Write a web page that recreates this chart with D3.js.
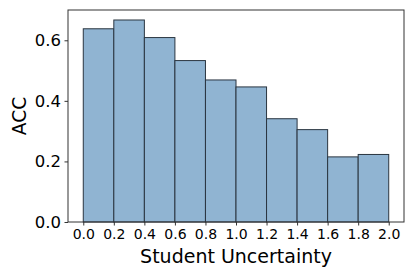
<!DOCTYPE html>
<html>
<head>
<meta charset="utf-8">
<script src="https://cdn.jsdelivr.net/npm/d3@7"></script>
<style>
  body { margin: 0; background: #fff; }
  svg { font-family: "DejaVu Sans", sans-serif; }
</style>
</head>
<body>
<script>
// bin left edges and accuracy per bin
var binStarts = [0.0, 0.2, 0.4, 0.6, 0.8, 1.0, 1.2, 1.4, 1.6, 1.8];
var accValues = [0.638, 0.667, 0.609, 0.533, 0.469, 0.446, 0.341, 0.305, 0.215, 0.223];
var xTicks = [0.0, 0.2, 0.4, 0.6, 0.8, 1.0, 1.2, 1.4, 1.6, 1.8, 2.0];
var yTicks = [0.0, 0.2, 0.4, 0.6];
var binWidth = 0.2;

var width = 415;
var height = 277;
var margin = {left: 68, right: 11, top: 10, bottom: 55};

var svg = d3.select("body").append("svg")
    .attr("width", width)
    .attr("height", height);

var x = d3.scaleLinear()
    .domain([-0.1, 2.1])
    .range([margin.left, width - margin.right]);

var y = d3.scaleLinear()
    .domain([0, 0.70])
    .range([height - margin.bottom, margin.top]);

// bars
svg.selectAll("rect.bar")
    .data(binStarts)
    .enter()
    .append("rect")
    .attr("class", "bar")
    .attr("x", function(d) { return x(d); })
    .attr("width", function(d) { return x(d + binWidth) - x(d); })
    .attr("y", function(d, i) { return y(accValues[i]); })
    .attr("height", function(d, i) { return y(0) - y(accValues[i]); })
    .attr("fill", "#90b4d2")
    .attr("stroke", "#2a3540")
    .attr("stroke-width", 1);

// axes
var xAxis = d3.axisBottom(x)
    .tickValues(xTicks)
    .tickFormat(d3.format(".1f"))
    .tickSize(3.5)
    .tickPadding(3.5);

var yAxis = d3.axisLeft(y)
    .tickValues(yTicks)
    .tickFormat(d3.format(".1f"))
    .tickSize(3.5)
    .tickPadding(3.5);

var gx = svg.append("g")
    .attr("transform", "translate(0," + y(0) + ")")
    .call(xAxis);
gx.select(".domain").remove();
gx.selectAll("text").attr("font-size", 14).attr("fill", "#000").attr("font-family", "DejaVu Sans");
gx.selectAll("line").attr("stroke", "#333");

var gy = svg.append("g")
    .attr("transform", "translate(" + margin.left + ",0)")
    .call(yAxis);
gy.select(".domain").remove();
gy.selectAll("text").attr("font-size", 16.5).attr("fill", "#000").attr("font-family", "DejaVu Sans");
gy.selectAll("line").attr("stroke", "#333");

// frame
svg.append("rect")
    .attr("x", margin.left)
    .attr("y", margin.top)
    .attr("width", width - margin.right - margin.left)
    .attr("height", height - margin.bottom - margin.top)
    .attr("fill", "none")
    .attr("stroke", "#333")
    .attr("stroke-width", 1);

// axis labels
svg.append("text")
    .attr("x", (margin.left + width - margin.right) / 2)
    .attr("y", 263)
    .attr("text-anchor", "middle")
    .attr("font-size", 19)
    .text("Student Uncertainty");

svg.append("text")
    .attr("transform", "translate(26," + (margin.top + height - margin.bottom) / 2 + ") rotate(-90)")
    .attr("text-anchor", "middle")
    .attr("font-size", 18.6)
    .text("ACC");
</script>
</body>
</html>
